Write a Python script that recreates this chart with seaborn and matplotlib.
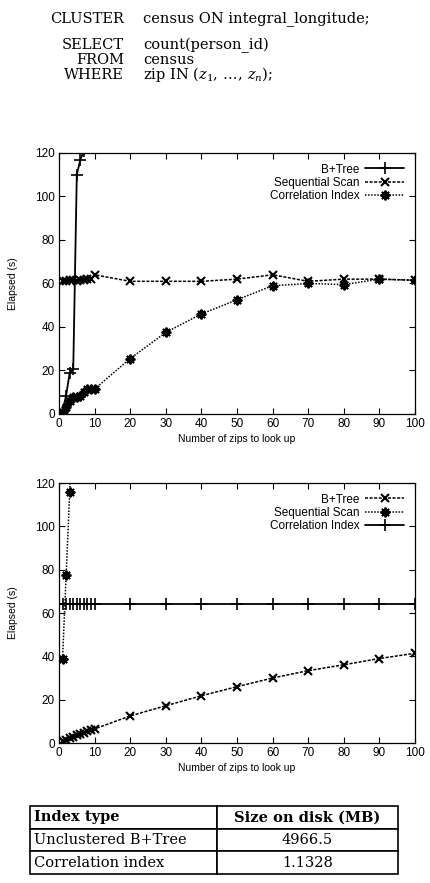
import numpy as np
import pandas as pd
import matplotlib
matplotlib.use("Agg")
import matplotlib.pyplot as plt
import seaborn as sns

# query text shown above the charts
query_keys = ["CLUSTER", "SELECT", "FROM", "WHERE"]
query_vals = ["census ON integral_longitude;", "count(person_id)", "census",
              r"zip IN $(z_1,\, \ldots,\, z_n)$;"]

# top chart: clustered on integral_longitude
top_bt_x = [1, 2, 3, 4, 5, 6, 7]
top_bt_y = [1.5, 8.5, 19, 20.5, 110, 117, 121]
top_ss_x = [1, 2, 3, 4, 5, 6, 7, 8, 9, 10, 20, 30, 40, 50, 60, 70, 80, 90, 100]
top_ss_y = [61, 61, 61.5, 61.5, 61, 61.5, 61.5, 62, 62, 64, 61, 61, 61, 62, 64, 61, 62, 62, 61.5]
top_ci_x = [1, 2, 3, 4, 5, 6, 7, 8, 9, 10, 20, 30, 40, 50, 60, 70, 80, 90, 100]
top_ci_y = [1, 3, 6, 8, 8, 8.5, 10, 11.5, 11.5, 11.5, 25.5, 37.5, 46, 52.5, 59, 60, 59.5, 62, 61.5]

# bottom chart
bot_bt_x = [1, 2, 3, 4, 5, 6, 7, 8, 9, 10, 20, 30, 40, 50, 60, 70, 80, 90, 100]
bot_bt_y = [0.8, 1.5, 2.2, 2.9, 3.5, 4.2, 4.8, 5.4, 6, 6.5, 12.5, 17.2, 21.8, 26, 30, 33.4, 36.1, 39, 41.4]
bot_ss_x = [1, 2, 3, 4]
bot_ss_y = [39, 77.5, 115.7, 155]
bot_ci_x = [1, 2, 3, 4, 5, 6, 7, 8, 9, 10, 20, 30, 40, 50, 60, 70, 80, 90, 100]
bot_ci_y = [64] * 19

# index size table
table_header = ["Index type", "Size on disk (MB)"]
table_rows = [["Unclustered B+Tree", "4966.5"], ["Correlation index", "1.1328"]]

sns.set_style("ticks")
plt.rcParams["font.family"] = ["Liberation Sans", "DejaVu Sans"]
plt.rcParams["mathtext.fontset"] = "dejavuserif"
for key in ["text.color", "axes.labelcolor", "xtick.color", "ytick.color", "axes.edgecolor"]:
    plt.rcParams[key] = "black"

W, H = 431, 883
fig = plt.figure(figsize=(W / 100, H / 100), dpi=100)

star = (8, 2, 0)
serif = ["DejaVu Serif"]

# query text
for i, (k, v) in enumerate(zip(query_keys, query_vals)):
    ypix = [19, 45, 60, 75][i]
    fig.text(124 / W, 1 - ypix / H, k, ha="right", va="center", fontsize=10.5, family=serif)
    fig.text(143 / W, 1 - ypix / H, v, ha="left", va="center", fontsize=10.5, family=serif)


def style_axes(ax):
    ax.set_xlim(0, 100)
    ax.set_ylim(0, 120)
    ax.set_xticks(range(0, 101, 10))
    ax.set_yticks(range(0, 121, 20))
    ax.tick_params(direction="in", top=True, right=True, length=4, width=0.8,
                   labelsize=8.5, pad=3, colors="black")
    for s in ax.spines.values():
        s.set_linewidth(0.9)
        s.set_color("black")
    ax.set_xlabel("Number of zips to look up", fontsize=7.5, labelpad=3)
    ax.set_ylabel("Elapsed (s)", fontsize=7.5, labelpad=12)
    ax.legend(loc="upper right", frameon=False, markerfirst=False, fontsize=8.5,
              handlelength=3.3, handletextpad=0.5, labelspacing=0.1,
              borderaxespad=0.5)


def draw(ax, x, y, kind, label):
    common = dict(ax=ax, color="black", markeredgecolor="black", markerfacecolor="black",
                  label=label)
    if kind == "solid":
        sns.lineplot(x=x, y=y, lw=1.3, marker="+", markersize=8, mew=1.2, **common)
    elif kind == "dash":
        sns.lineplot(x=x, y=y, lw=1.1, linestyle=(0, (2, 1)), marker="x",
                     markersize=6, mew=1.5, **common)
    else:
        sns.lineplot(x=x, y=y, lw=1.1, linestyle=(0, (1, 1)), marker=star,
                     markersize=7, mew=1.4, **common)


ax1 = fig.add_axes([59 / W, 1 - 414 / H, 356 / W, 261 / H])
draw(ax1, top_bt_x, top_bt_y, "solid", "B+Tree")
draw(ax1, top_ss_x, top_ss_y, "dash", "Sequential Scan")
draw(ax1, top_ci_x, top_ci_y, "dot", "Correlation Index")
style_axes(ax1)

ax2 = fig.add_axes([59 / W, 1 - 743 / H, 356 / W, 260 / H])
draw(ax2, bot_bt_x, bot_bt_y, "dash", "B+Tree")
draw(ax2, bot_ss_x, bot_ss_y, "dot", "Sequential Scan")
draw(ax2, bot_ci_x, bot_ci_y, "solid", "Correlation Index")
style_axes(ax2)

# table
axt = fig.add_axes([30 / W, 1 - 874 / H, 368 / W, 68 / H])
axt.axis("off")
tbl = axt.table(cellText=[table_header] + table_rows, bbox=[0, 0, 1, 1],
                colWidths=[187 / 368, 181 / 368], cellLoc="center")
tbl.auto_set_font_size(False)
for (r, c), cell in tbl.get_celld().items():
    cell.set_linewidth(1.2)
    cell.set_edgecolor("black")
    txt = cell.get_text()
    txt.set_fontsize(10.5)
    txt.set_family(serif)
    txt.set_color("black")
    if c == 0:
        cell.set_text_props(ha="left")
        cell.PAD = 0.02
    if r == 0:
        txt.set_fontweight("bold")

fig.savefig("out.png", dpi=100)
